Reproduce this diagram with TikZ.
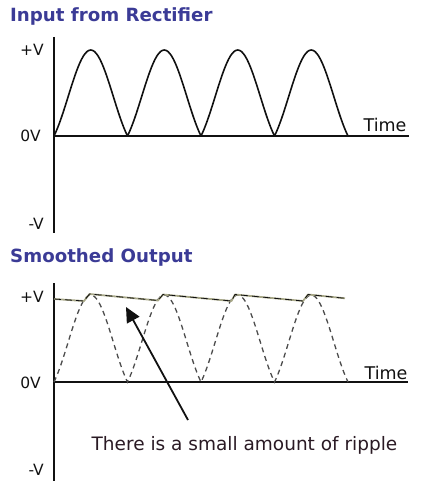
\documentclass[tikz,border=0pt]{standalone}
\usepackage{fontspec}
\setmainfont{DejaVu Sans}
\setsansfont{DejaVu Sans}
\usetikzlibrary{arrows.meta}
\definecolor{wvTitle}{HTML}{3B3B96}
\definecolor{wvKhaki}{HTML}{A8A888}
\definecolor{wvInk}{HTML}{111111}
\definecolor{wvNote}{HTML}{2A1A24}

\begin{document}
\begin{tikzpicture}[x=1pt, y=-1pt, font=\sffamily,
  ttl/.style={font=\sffamily\fontsize{18.2}{18.2}\selectfont\bfseries, text=wvTitle, anchor=west, inner sep=0pt},
  lvl/.style={font=\sffamily\fontsize{15.5}{15.5}\selectfont, text=wvInk, anchor=east, inner sep=0pt},
  tlab/.style={font=\sffamily\fontsize{17.5}{17.5}\selectfont, text=wvInk, inner sep=0pt},
  yaxis/.style={draw=wvInk, line width=2.6pt},
  xaxis/.style={draw=wvInk, line width=1.3pt},
  wave/.style={draw=wvInk, line width=1.6pt, line join=round},
  dwave/.style={draw=black!70, line width=1.3pt, dash pattern=on 5pt off 4pt},
  pointer/.style={draw=wvInk, line width=1.8pt, -{Triangle[length=15pt, width=14pt]}},
]
\useasboundingbox (0,0) rectangle (433,481);
\def\arch{73.5}
% ---- input from rectifier ----
\node[ttl] (titleIn) at (10,16){Input from Rectifier};
\draw[yaxis] (54,37) -- (54,233);
\draw[xaxis] (54,136) -- (409,136);
\node[lvl] (pvIn) at (44,50){+V};
\node[lvl] (zvIn) at (41,136){0V};
\node[lvl] (nvIn) at (44,224){-V};
\node[tlab] (timeIn) at (385,125){Time};
\draw[wave] plot[domain=0:294, samples=161] ({54+\x},{136-86*(0.55*abs(sin(\x/\arch*180))+0.45*sin(\x/\arch*180)^2)});
% ---- smoothed output ----
\node[ttl] (titleOut) at (10,257){Smoothed Output};
\draw[yaxis] (54,283) -- (54,481);
\draw[xaxis] (54,382) -- (408,382);
\node[lvl] (pvOut) at (44,297){+V};
\node[lvl] (zvOut) at (41,383){0V};
\node[lvl] (nvOut) at (44,470){-V};
\node[tlab] (timeOut) at (386,373){Time};
\draw[dwave] plot[domain=0:294, samples=161] ({54+\x},{382-87*(0.55*abs(sin(\x/\arch*180))+0.45*sin(\x/\arch*180)^2)});
% ripple envelope: khaki under black dashes
\def\ripple{(54,299) -- (84,301) -- (89.5,294) -- (158,300.5) -- (163,294.5) -- (231.5,301) -- (235,294.5) -- (303,301) -- (308,294.5) -- (345,298.3)}
\draw[wvKhaki, line width=1.8pt, line join=round] \ripple;
\draw[wvInk, line width=0.8pt, dash pattern=on 7pt off 4pt] \ripple;
% ---- pointer and note ----
\coordinate (ripTip) at (126,307);
\coordinate (ripTail) at (188,420);
\draw[pointer] (ripTail) -- (ripTip);
\node[font=\sffamily\fontsize{18.5}{18.5}\selectfont, text=wvNote, inner sep=0pt] (ripNote) at (244.5,445){There is a small amount of ripple};
\end{tikzpicture}
\end{document}
